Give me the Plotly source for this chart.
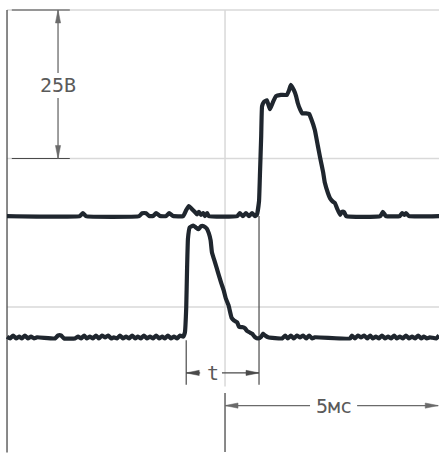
import plotly.graph_objects as go

# ---- data: time in ms, voltage in V (relative to each channel's baseline) ----
upper_t = [0.00, 1.67, 1.74, 1.81, 3.03, 3.10, 3.19, 3.26, 3.35, 3.42,
           3.51, 3.65, 3.72, 3.81, 4.04, 4.11, 4.17, 4.24, 4.31, 4.36,
           4.40, 4.45, 4.50, 4.54, 4.59, 4.63, 5.28, 5.34, 5.41, 5.48,
           5.55, 5.62, 5.69, 5.73, 5.78, 5.80, 5.83, 5.85, 5.89, 5.96,
           6.03, 6.10, 6.17, 6.28, 6.42, 6.47, 6.51, 6.58, 6.63, 6.67,
           6.72, 6.77, 6.86, 6.93, 6.97, 7.06, 7.13, 7.18, 7.25, 7.29,
           7.36, 7.41, 7.48, 7.52, 7.57, 7.64, 7.68, 7.73, 7.78, 8.56,
           8.62, 8.69, 9.01, 9.06, 9.11, 9.15, 9.22, 9.91]
upper_v = [0, 0, 0.5, 0, 0, 0.5, 0.5, 0, 0, 0.5,
           0, 0, 0.5, 0, 0, 1.0, 1.7, 1.2, 0.7, 0.3,
           0.7, 0.2, 0.5, 0, 0.5, 0, 0, 0.5, 0, 0.5,
           0, 0.5, 0, 0.2, 2.5, 6.7, 13.5, 18.5, 19.2, 19.5,
           18.0, 19.2, 20.2, 20.4, 20.4, 21.2, 22.1, 21.2, 20.2, 19.0,
           18.0, 17.3, 17.3, 17.2, 16.5, 14.5, 11.8, 9.9, 7.4, 5.6,
           3.9, 3.0, 2.4, 2.2, 1.3, 0.2, 0.7, 0.7, 0, 0,
           0.7, 0, 0, 0.5, 0.2, 0.5, 0, 0]

lower_t = [0.00, 0.07, 0.14, 0.21, 0.28, 0.34, 0.41, 0.48, 0.55, 0.62,
           0.69, 1.10, 1.17, 1.24, 1.31, 1.56, 1.63, 1.70, 1.77, 1.83,
           1.90, 1.97, 2.04, 2.11, 2.18, 2.25, 2.32, 2.39, 2.45, 2.52,
           2.59, 2.66, 2.73, 2.80, 2.87, 2.94, 3.00, 3.07, 3.14, 3.21,
           3.28, 3.35, 3.42, 3.49, 3.56, 3.62, 3.69, 3.76, 3.83, 3.90,
           3.97, 4.04, 4.08, 4.11, 4.13, 4.15, 4.19, 4.27, 4.33, 4.39,
           4.45, 4.51, 4.58, 4.63, 4.67, 4.70, 4.77, 4.84, 4.91, 4.97,
           5.02, 5.08, 5.15, 5.21, 5.28, 5.32, 5.37, 5.41, 5.46, 5.50,
           5.57, 5.62, 5.69, 5.76, 5.83, 5.87, 5.92, 5.99, 6.31, 6.38,
           6.44, 6.51, 6.58, 6.65, 6.72, 6.79, 6.86, 6.93, 7.00, 7.06,
           7.87, 7.91, 7.98, 8.05, 8.12, 8.19, 8.26, 8.33, 8.39, 8.46,
           8.53, 8.60, 8.67, 8.74, 8.81, 8.88, 8.94, 9.01, 9.08, 9.15,
           9.22, 9.29, 9.36, 9.43, 9.50, 9.56, 9.63, 9.70, 9.84, 9.91]
lower_v = [0.3, 0, 0.5, 0, 0.3, 0, 0.5, 0, 0.3, 0,
           0.2, 0, 0.5, 0.5, 0, 0, 0.3, 0, 0.5, 0,
           0.3, 0, 0.5, 0, 0.5, 0.2, 0.5, 0, 0.2, 0,
           0.5, 0, 0.3, 0, 0.5, 0, 0.3, 0, 0.5, 0,
           0.3, 0, 0.5, 0, 0.3, 0, 0.5, 0, 0.3, 0,
           0.5, 0.3, 1.0, 5.1, 11.8, 16.8, 18.7, 19.0, 18.7, 18.4,
           18.9, 18.9, 18.5, 17.7, 16.5, 14.5, 12.8, 11.1, 9.4, 8.1,
           6.7, 5.6, 3.5, 3.0, 2.7, 2.0, 1.9, 1.9, 1.7, 1.3,
           1.0, 0.8, 0.2, 0, 0.3, 0.8, 0.5, 0.2, 0, 0.5,
           0, 0.5, 0, 0.5, 0.2, 0.5, 0, 0.5, 0, 0.2,
           0, 0.5, 0, 0.5, 0.2, 0.5, 0, 0.5, 0, 0.3,
           0, 0.5, 0, 0.3, 0, 0.5, 0, 0.3, 0, 0.5,
           0, 0.3, 0, 0.5, 0, 0.3, 0, 0.2, 0, 0.5]

UPPER_BASE = 15.3   # V, baseline of upper trace on screen
LOWER_BASE = -5.3   # V, baseline of lower trace on screen

grid_volts = [0, 25, 50]
grid_ms = [0, 5]
volt_label = "25В"
time_label = "5мс"
delay_label = "t"
upper_rise_ms = 5.78
lower_rise_ms = 4.11

# ---- layout geometry ----
W, H = 439, 454
X0, X1 = -0.161, 9.908
Y0, Y1 = -24.75, 51.68
PX_X = W / (X1 - X0)
PX_Y = H / (Y1 - Y0)

TRACE = "#1f262e"
DARK = "#4a4a4a"
DIM = "#6a6a6a"
LIGHT = "#d9d9d9"
TXT = "#5a5a5a"

fig = go.Figure()
for ts, vs, base in ((upper_t, upper_v, UPPER_BASE), (lower_t, lower_v, LOWER_BASE)):
    fig.add_trace(go.Scatter(x=ts, y=[v + base for v in vs],
                             mode="lines",
                             line=dict(color=TRACE, width=4.2, shape="spline", smoothing=0.35),
                             hoverinfo="skip", showlegend=False))

shapes = []


def seg(x0, y0, x1, y1, color, width):
    shapes.append(dict(type="line", xref="x", yref="y", x0=x0, y0=y0, x1=x1, y1=y1,
                       line=dict(color=color, width=width), layer="below"))


def head(x, y, direction, color, length=13, half=2.6):
    lx, ly = length / PX_X, length / PX_Y
    hx, hy = half / PX_X, half / PX_Y
    if direction == "left":
        pts = [(x, y), (x + lx, y + hy), (x + lx, y - hy)]
    elif direction == "right":
        pts = [(x, y), (x - lx, y + hy), (x - lx, y - hy)]
    elif direction == "up":
        pts = [(x, y), (x - hx, y - ly), (x + hx, y - ly)]
    else:
        pts = [(x, y), (x - hx, y + ly), (x + hx, y + ly)]
    path = "M{},{} L{},{} L{},{} Z".format(*[c for p in pts for c in p])
    shapes.append(dict(type="path", xref="x", yref="y", path=path,
                       fillcolor=color, line=dict(color=color, width=0.5), layer="below"))


# grid
for v in grid_volts:
    seg(grid_ms[0], v, X1, v, LIGHT, 1.5)
seg(grid_ms[1], grid_volts[2], grid_ms[1], -13.4, LIGHT, 1.5)
seg(grid_ms[0], grid_volts[2], grid_ms[0], -24.5, DARK, 1.3)
# extension lines for volt dimension
seg(0.11, grid_volts[2], 1.44, grid_volts[2], DARK, 1.2)
seg(0.11, grid_volts[1], 1.44, grid_volts[1], DARK, 1.2)

# volt dimension
DIM_X = 1.17
seg(DIM_X, grid_volts[2], DIM_X, 39.4, DIM, 1.3)
seg(DIM_X, 35.2, DIM_X, grid_volts[1], DIM, 1.3)
head(DIM_X, grid_volts[2], "up", DIM)
head(DIM_X, grid_volts[1], "down", DIM)

# delay dimension
T_Y = -11.1
seg(lower_rise_ms, LOWER_BASE - 0.3, lower_rise_ms, -13.1, DARK, 1.2)
seg(upper_rise_ms, UPPER_BASE, upper_rise_ms, -13.1, DARK, 1.2)
seg(lower_rise_ms, T_Y, 4.43, T_Y, DARK, 1.2)
seg(4.93, T_Y, upper_rise_ms, T_Y, DARK, 1.2)
head(lower_rise_ms, T_Y, "left", DARK)
head(upper_rise_ms, T_Y, "right", DARK)

# 5 ms dimension
S_Y = -16.6
seg(grid_ms[1], -14.5, grid_ms[1], -24.4, DARK, 1.3)
seg(grid_ms[1], S_Y, 6.95, S_Y, DIM, 1.2)
seg(8.03, S_Y, 9.89, S_Y, DIM, 1.2)
head(grid_ms[1], S_Y, "left", DIM)
head(9.89, S_Y, "right", DIM)

font = dict(family="DejaVu Sans Mono, monospace", size=20, color=TXT)
annotations = [
    dict(x=DIM_X, y=37.3, text=volt_label, showarrow=False, font=font,
         xanchor="center", yanchor="middle"),
    dict(x=4.72, y=T_Y, text=delay_label, showarrow=False, font=font,
         xanchor="center", yanchor="middle"),
    dict(x=7.49, y=S_Y, text=time_label, showarrow=False, font=font,
         xanchor="center", yanchor="middle"),
]

fig.update_layout(
    width=W, height=H,
    margin=dict(l=0, r=0, t=0, b=0),
    paper_bgcolor="white", plot_bgcolor="white",
    shapes=shapes, annotations=annotations,
    xaxis=dict(range=[X0, X1], visible=False, fixedrange=True),
    yaxis=dict(range=[Y0, Y1], visible=False, fixedrange=True),
    showlegend=False,
)

fig.write_html("out.html", config={"displayModeBar": False},
               post_script="document.body.style.margin='0';document.body.style.overflow='hidden';")
